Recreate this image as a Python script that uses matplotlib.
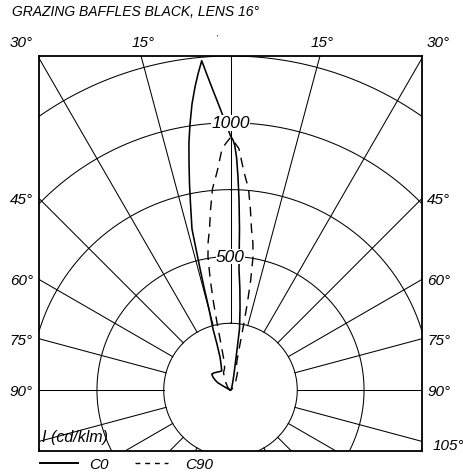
import numpy as np
import matplotlib
matplotlib.use("Agg")
import matplotlib.pyplot as plt
from matplotlib.lines import Line2D

# ---------------- data ----------------
title = "GRAZING BAFFLES BLACK, LENS 16°"
unit_label = "I (cd/klm)"
series_names = ["C0", "C90"]

# C0 plane: gamma (deg, negative = left) and intensity (cd/klm)
c0_gamma = [-90, -75, -65, -62, -61, -60, -57, -53.4, -49.6, -45, -40, -35, -30, -24.5,
            -20, -17.6, -16.4, -16.0, -14.87, -14.5, -14.1, -13.75, -13.45, -12.14,
            -11.26, -10.4, -9.58, -8.66, -7.67, -6.68, -5.87, -5.0,
            -4.31, -3.42, -2.44, -1.35, -0.55, 0, 0.6, 1.0, 1.5, 2.0, 2.55, 3.2, 4.0,
            5.3, 6.7, 8.4, 9.3, 12.3, 15, 22, 35, 90]
c0_I = [0, 2, 8, 20, 35, 56, 68, 82, 92, 90, 86, 83, 80, 79,
        104, 130, 180, 238, 314, 390, 467, 543, 620, 712,
        786, 860, 936, 1007, 1080, 1142, 1189, 1237,
        1186, 1128, 1072, 1015, 977, 951, 935, 915, 870, 800, 716, 604, 455,
        380, 306, 231, 144, 61, 35, 15, 5, 0]

# C90 plane (symmetric): gamma >= 0 and intensity
c90_gamma = [0, 1.0, 2.0, 3.5, 5.1, 6.3, 7.4, 8.6, 9.6, 10.4, 11.0, 11.4, 11.8, 12.5,
             15, 22, 30, 45, 60, 90]
c90_I = [945, 925, 904, 819, 757, 680, 609, 560, 506, 420, 330, 240, 160, 110,
         85, 70, 40, 15, 5, 0]

ring_values = [250, 500, 750, 1000, 1250]
ring_labels = {1000: "1000", 500: "500"}
spoke_angles = list(range(-180, 181, 15))

top_labels = [("30°", -30), ("15°", -15), ("15°", 15), ("30°", 30)]
side_labels = [45, 60, 75, 90]

# ---------------- figure ----------------
W, H = 464, 477
fig = plt.figure(figsize=(W / 100, H / 100), dpi=100)
fig.patch.set_facecolor("white")
FONT = "Liberation Sans"
plt.rcParams["font.family"] = [FONT, "DejaVu Sans"]

box_l, box_r, box_t, box_b = 39, 422, 57, 452
ax = fig.add_axes([box_l / W, (H - box_b) / H, (box_r - box_l) / W, (box_b - box_t) / H])
xmax = 717
ymin, ymax = -228, 1250
ax.set_xlim(-xmax, xmax)
ax.set_ylim(ymin, ymax)
ax.set_xticks([])
ax.set_yticks([])
for s in ax.spines.values():
    s.set_linewidth(1.3)
    s.set_zorder(10)

GRID_LW = 0.75
t = np.linspace(0, 2 * np.pi, 721)
for r in ring_values:
    ax.plot(r * np.sin(t), r * np.cos(t), color="black", lw=GRID_LW, zorder=1)

r0 = ring_values[0]
for a in spoke_angles:
    rad = np.deg2rad(a)
    ax.plot([r0 * np.sin(rad), 3000 * np.sin(rad)], [r0 * np.cos(rad), 3000 * np.cos(rad)],
            color="black", lw=GRID_LW, zorder=1)


def polar_xy(gam, inten):
    g = np.deg2rad(np.asarray(gam, dtype=float))
    i = np.asarray(inten, dtype=float)
    return i * np.sin(g), i * np.cos(g)


x0, y0 = polar_xy(c0_gamma, c0_I)
ax.plot(x0, y0, color="black", lw=1.15, zorder=4, solid_joinstyle="round")

g90 = [-g for g in c90_gamma[::-1]] + c90_gamma[1:]
i90 = c90_I[::-1] + c90_I[1:]
x9, y9 = polar_xy(g90, i90)
ax.plot(x9, y9, color="black", lw=1.0, ls=(0, (7, 5)), zorder=4)

for v, lab in ring_labels.items():
    ax.text(0, v, lab, ha="center", va="center", fontsize=12.5, style="italic",
            family=FONT, zorder=6,
            bbox=dict(facecolor="white", edgecolor="none", pad=0.3))

ax.text(-xmax + 10, -174, unit_label, ha="left", va="center", fontsize=11.5,
        style="italic", family=FONT, zorder=6)

# ---------------- outside labels ----------------
def fx(px):
    return px / W


def fy(py):
    return 1 - py / H


fig.text(fx(12), fy(12), title, ha="left", va="center", fontsize=10, style="italic",
         family=FONT)

cx, cy = 230.5, 391
for lab, a in top_labels:
    if abs(a) == 30:
        if a < 0:
            fig.text(fx(33), fy(43), lab, ha="right", va="center", fontsize=11,
                     style="italic", family=FONT)
        else:
            fig.text(fx(427), fy(43), lab, ha="left", va="center", fontsize=11,
                     style="italic", family=FONT)
    else:
        xpx = cx + (cy - box_t) * np.tan(np.deg2rad(a))
        fig.text(fx(xpx + 2), fy(43), lab, ha="center", va="center", fontsize=11,
                 style="italic", family=FONT)

fig.text(fx(216), fy(38), "'", ha="center", va="center", fontsize=6, style="italic",
         family=FONT)

for a in side_labels:
    if a == 90:
        ypx = cy
    else:
        ypx = cy - (cx - box_l) / np.tan(np.deg2rad(a))
    fig.text(fx(33), fy(ypx + 1), f"{a}°", ha="right", va="center", fontsize=11,
             style="italic", family=FONT)
    fig.text(fx(427), fy(ypx + 1), f"{a}°", ha="left", va="center", fontsize=11,
             style="italic", family=FONT)
fig.text(fx(433), fy(446), "105°", ha="left", va="center", fontsize=11,
         style="italic", family=FONT)

# ---------------- legend ----------------
fig.add_artist(Line2D([fx(40), fx(78)], [fy(464), fy(464)], color="black", lw=1.4))
fig.text(fx(89), fy(465), series_names[0], ha="left", va="center", fontsize=11,
         style="italic", family=FONT)
fig.add_artist(Line2D([fx(135), fx(168)], [fy(464), fy(464)], color="black", lw=1.0,
                      ls=(0, (3.5, 3.5))))
fig.text(fx(185), fy(465), series_names[1], ha="left", va="center", fontsize=11,
         style="italic", family=FONT)

fig.savefig("out.png", dpi=100, facecolor="white")
